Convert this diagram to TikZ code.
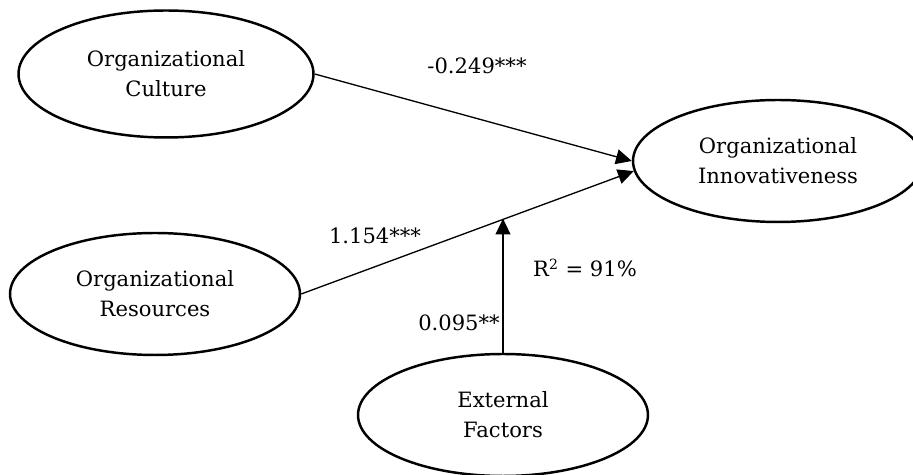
\documentclass[tikz,border=0pt]{standalone}
\usepackage{fontspec}
\setmainfont{DejaVu Serif}
\usetikzlibrary{arrows.meta,shapes.geometric}
\tikzset{
  construct/.style={draw, ellipse, line width=1.4pt, align=center,
    minimum width=5.8cm, minimum height=2.44cm, inner sep=0pt},
  path arrow/.style={-{Triangle[length=9pt,width=8.5pt]}, line width=0.75pt},
  coef/.style={inner sep=0pt}
}
\begin{document}
\begin{tikzpicture}[x=0.02cm, y=-0.02cm, font=\fontsize{12}{17}\selectfont]
\useasboundingbox (0,0) rectangle (913,475);
% the constructs
\node[construct, minimum width=5.9cm, minimum height=2.54cm] (culture) at (166,74)
  {Organizational\\Culture};
\node[construct] (resources) at (155,294) {Organizational\\Resources};
\node[construct] (innov) at (778,161) {Organizational\\Innovativeness};
\node[construct] (external) at (503,415) {External\\Factors};
% direct paths
\draw[path arrow] (culture.east) -- (innov.west);
\draw[path arrow] (resources.east) -- coordinate[pos=0.613] (mod) (innov.184);
% moderating path
\draw[path arrow] (external.north) -- (external.north |- mod);
% coefficients
\node[coef] (b1) at (477,66) {-0.249***};
\node[coef] (b2) at (375,236) {1.154***};
\node[coef] (b3) at (459,323) {0.095**};
\node[coef] (rsq) at (585,268) {R\textsuperscript{2} = 91\%};
\end{tikzpicture}
\end{document}
